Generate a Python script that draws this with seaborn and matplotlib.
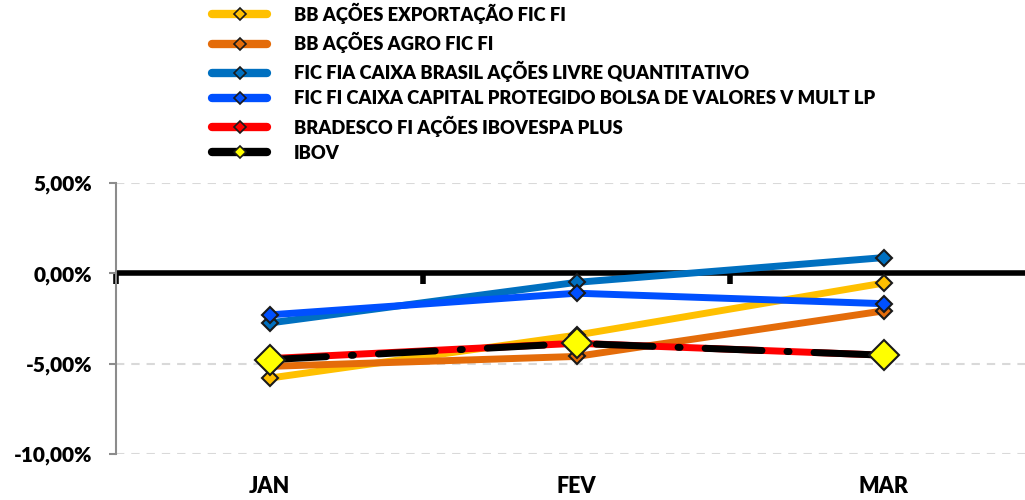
import matplotlib
matplotlib.use("Agg")
import matplotlib.pyplot as plt
from matplotlib.lines import Line2D
from matplotlib.ticker import FuncFormatter
import seaborn as sns
import pandas as pd

months = ["JAN", "FEV", "MAR"]
bb_exportacao = [-5.80, -3.42, -0.54]
bb_agro = [-5.15, -4.60, -2.08]
caixa_livre = [-2.75, -0.50, 0.87]
caixa_capital = [-2.30, -1.10, -1.68]
bradesco = [-4.72, -3.87, -4.53]
ibov = [-4.78, -3.88, -4.53]

names = ["BB AÇÕES EXPORTAÇÃO FIC FI", "BB AÇÕES AGRO FIC FI",
         "FIC FIA CAIXA BRASIL AÇÕES LIVRE QUANTITATIVO",
         "FIC FI CAIXA CAPITAL PROTEGIDO BOLSA DE VALORES V MULT LP",
         "BRADESCO FI AÇÕES IBOVESPA PLUS", "IBOV"]
series = [bb_exportacao, bb_agro, caixa_livre, caixa_capital, bradesco, ibov]
colors = ["#FFC000", "#E46C0A", "#0070C0", "#0050FF", "#FF0000", "#000000"]

sns.set_style("white")
fam = ["Lato", "DejaVu Sans"]
plt.rcParams["font.family"] = fam
plt.rcParams["font.weight"] = "bold"
plt.rcParams["text.color"] = "black"
plt.rcParams["lines.scale_dashes"] = False

fig = plt.figure(figsize=(10.25, 5), dpi=100)
ax = fig.add_axes([116 / 1025, 46 / 500, (1037 - 116) / 1025, (454 - 183) / 500])

for v in (5, -5, -10):
    ax.axhline(v, color="#D9D9D9", lw=1.5, ls=(0, (6, 5)), zorder=0)
ax.axhline(0, color="black", lw=4, zorder=1)

for i, (name, vals, col) in enumerate(zip(names, series, colors)):
    df = pd.DataFrame({"mes": months, "val": vals})
    if name == "IBOV":
        sns.lineplot(data=df, x="mes", y="val", ax=ax, color="black", lw=5,
                     dashes=False, sort=False, zorder=10)
        ln = ax.lines[-1]
        ln.set_linestyle((0, (41, 18, 1.5, 18)))
        ln.set_dash_capstyle("round")
        ln.set_marker("D")
        ln.set_markersize(15)
        ln.set_markerfacecolor("#FFFF00")
        ln.set_markeredgecolor("#1a1a1a")
        ln.set_markeredgewidth(1.5)
    else:
        sns.lineplot(data=df, x="mes", y="val", ax=ax, color=col, lw=5,
                     marker="D", markersize=8, markerfacecolor=col,
                     markeredgecolor="#1a1a1a", markeredgewidth=1.5,
                     sort=False, zorder=3 + i)

ax.set_xlim(-0.5, 2.5)
ax.set_ylim(-10, 5)
ax.set_yticks([5, 0, -5, -10])
ax.yaxis.set_major_formatter(FuncFormatter(lambda v, p: f"{v:.2f}".replace(".", ",") + "%"))
ax.set_xlabel("")
ax.set_ylabel("")
ax.tick_params(axis="y", length=5, width=1.5, color="#8C8C8C", labelcolor="black",
               labelsize=15, pad=12, left=True)
ax.tick_params(axis="x", length=0, labelsize=15.5, labelcolor="black", pad=16)
for lab in ax.get_xticklabels() + ax.get_yticklabels():
    lab.set_fontweight("heavy")
for s in ("top", "right", "bottom"):
    ax.spines[s].set_visible(False)
ax.spines["left"].set_color("#8C8C8C")
ax.spines["left"].set_linewidth(1.5)

sec = ax.secondary_xaxis(10 / 15)
sec.set_xticks([-0.5, 0.5, 1.5])
sec.set_xticklabels(["", "", ""])
sec.xaxis.set_ticks_position("bottom")
sec.tick_params(axis="x", which="both", length=8, width=4, color="black",
                direction="out", bottom=True, top=False)
for s in sec.spines.values():
    s.set_visible(False)

handles = []
for name, col in zip(names, colors):
    face = "#FFFF00" if name == "IBOV" else col
    h = Line2D([], [], color=col, lw=6, solid_capstyle="round", marker="D",
               markersize=6, markerfacecolor=face, markeredgecolor="#1a1a1a",
               markeredgewidth=1.2)
    handles.append(h)
leg = fig.legend(handles, names, loc="upper left", bbox_to_anchor=(0.207, 0.995),
                 frameon=False, borderpad=0, borderaxespad=0, handlelength=3.0,
                 handletextpad=1.45, labelspacing=0.44,
                 prop={"family": fam, "weight": "heavy", "size": 13.2})
for t in leg.get_texts():
    t.set_color("black")

fig.savefig("out.png", dpi=100)
